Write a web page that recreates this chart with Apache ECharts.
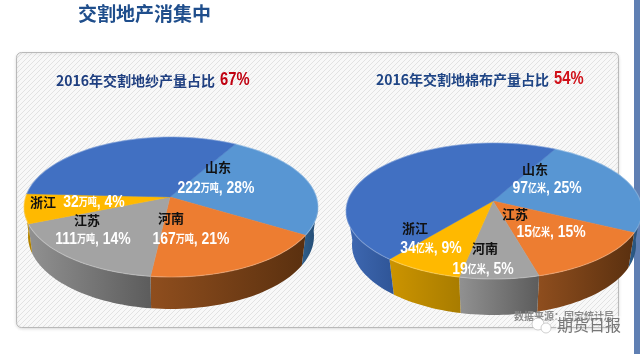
<!DOCTYPE html>
<html>
<head>
<meta charset="utf-8">
<style>html,body{margin:0;padding:0;background:#fff}#main{width:640px;height:354px}</style>
<script src="https://cdn.jsdelivr.net/npm/echarts@6/dist/echarts.min.js"></script>
</head>
<body>
<div id="main"></div>
<script>
const yarnNames = ["山东", "河南", "江苏", "浙江", "其他"];
const yarnValues = [222, 167, 111, 32];
const yarnPercents = [28, 21, 14, 4];
// slice sizes as drawn in the picture (the 3D perspective skews them off the labelled %)
const yarnShares = [24.4, 20.6, 18.9, 6.9, 29.2];

const clothNames = ["山东", "江苏", "河南", "浙江", "其他"];
const clothValues = [97, 15, 19, 34];
const clothPercents = [25, 15, 5, 9];
const clothShares = [23.4, 14.9, 8.7, 8.7, 44.3];

const BLUE = "#4170c2", SKY = "#5896d3", ORANGE = "#ed7d31", GRAY = "#a3a3a3", GOLD = "#ffb900";
const SIDE_ORANGE = ["#8f4e1e", "#5a300f"], SIDE_GRAY = ["#919191", "#5c5c5c"];
const SIDE_GOLD = ["#cc9400", "#a87c00"], SIDE_BLUE = ["#3f69b3", "#2f5597"], SIDE_SKY = ["#2f5f8c", "#234a70"];

const yarnPie = {
  apex: [170, 197], top: { cx: 171, cy: 207, rx: 147, ry: 70 }, bottom: { cx: 171, cy: 236, rx: 143, ry: 73 },
  start: 26, shares: yarnShares,
  colors: [SKY, ORANGE, GRAY, GOLD, BLUE],
  sides: [SIDE_SKY, SIDE_ORANGE, SIDE_GRAY, SIDE_GOLD, SIDE_BLUE],
};
const clothPie = {
  apex: [493, 201], top: { cx: 494, cy: 211, rx: 148, ry: 68 }, bottom: { cx: 494, cy: 245, rx: 142, ry: 70 },
  start: 24.4, shares: clothShares,
  colors: [SKY, ORANGE, GRAY, GOLD, BLUE],
  sides: [SIDE_SKY, SIDE_ORANGE, SIDE_GRAY, SIDE_GOLD, SIDE_BLUE],
};

function rimPoint(e, deg) {
  const a = deg * Math.PI / 180;
  return [e.cx + e.rx * Math.sin(a), e.cy - e.ry * Math.cos(a)];
}

function arcPoints(e, from, to) {
  const pts = [];
  for (let d = from; d < to; d += 2) pts.push(rimPoint(e, d));
  pts.push(rimPoint(e, to));
  return pts;
}

function pieSeries(pie) {
  return {
    type: "custom",
    coordinateSystem: "none",
    silent: true,
    animation: false,
    data: pie.shares.map((v) => [v]),
    renderItem(params, api) {
      const i = params.dataIndex;
      const before = pie.shares.slice(0, i).reduce((a, b) => a + b, 0);
      const from = pie.start + before * 3.6;
      const to = from + api.value(0) * 3.6;
      const children = [];

      // outer wall, front half only
      const wallFrom = Math.max(from, 86), wallTo = Math.min(to, 274);
      if (wallTo > wallFrom) {
        const wall = arcPoints(pie.top, wallFrom, wallTo)
          .concat(arcPoints(pie.bottom, wallFrom, wallTo).reverse());
        children.push({
          type: "polygon",
          shape: { points: wall },
          style: {
            fill: new echarts.graphic.LinearGradient(0, 0, 1, 0, [
              { offset: 0, color: pie.sides[i][0] },
              { offset: 1, color: pie.sides[i][1] },
            ]),
          },
        });
      }
      children.push({
        type: "polygon",
        shape: { points: [pie.apex].concat(arcPoints(pie.top, from, to)) },
        style: { fill: pie.colors[i], stroke: pie.colors[i], lineWidth: 0.5 },
      });
      // thin bevel highlight along the rim
      children.push({
        type: "polyline",
        shape: { points: arcPoints(pie.top, from, to) },
        style: { fill: null, stroke: "rgba(255,255,255,.22)", lineWidth: 1.2 },
      });
      return { type: "group", children };
    },
  };
}

function hatch() {
  const c = document.createElement("canvas");
  c.width = 5; c.height = 5;
  const g = c.getContext("2d");
  g.fillStyle = "#f8f8f8";
  g.fillRect(0, 0, 5, 5);
  g.strokeStyle = "#e2e2e2";
  g.lineWidth = 1;
  g.beginPath();
  g.moveTo(-1, 6); g.lineTo(6, -1);
  g.moveTo(-1, 1); g.lineTo(1, -1);
  g.moveTo(4, 6); g.lineTo(6, 4);
  g.stroke();
  return c;
}

const CJK = '"Noto Sans CJK SC"';
const LATIN = '"Liberation Sans"';

function nameText(text, x, y) {
  return {
    type: "text", z: 50,
    style: { text, x, y, align: "center", verticalAlign: "middle", fill: "#111", font: `bold 13px ${CJK}` },
  };
}

// the source font is a tall condensed one, so squeeze the text horizontally
function valueText(value, unit, pct, x, y) {
  return {
    type: "text", z: 50, x, y, scaleX: 0.82,
    style: {
      text: `{n|${value}}{u|${unit}}{n|, ${pct}%}`,
      x: 0, y: 0, align: "center", verticalAlign: "middle",
      rich: {
        n: { fill: "#fff", font: `bold 17px ${LATIN}` },
        u: { fill: "#fff", font: `bold 11px ${CJK}` },
      },
    },
  };
}

function plainText(text, x, y, fill, font, extra) {
  return { type: "text", z: 50, style: Object.assign({ text, x, y, fill, font, align: "left", verticalAlign: "middle" }, extra) };
}

function squeezedText(text, x, y, fill, font) {
  return { type: "text", z: 50, x, y, scaleX: 0.82, style: { text, x: 0, y: 0, fill, font, align: "left", verticalAlign: "middle" } };
}

const yarnNamePos = [[218, 167], [171, 218], [87, 220], [43, 202]];
const yarnValuePos = [[216, 188], [191, 239], [93, 239], [94, 202]];
const clothNamePos = [[535, 169], [515, 214], [485, 248], [415, 228]];
const clothValuePos = [[547, 188], [551, 232], [483, 269], [431, 248]];

const labels = [];
yarnValues.forEach((v, i) => {
  labels.push(nameText(yarnNames[i], yarnNamePos[i][0], yarnNamePos[i][1]));
  labels.push(valueText(v, "万吨", yarnPercents[i], yarnValuePos[i][0], yarnValuePos[i][1]));
});
clothValues.forEach((v, i) => {
  labels.push(nameText(clothNames[i], clothNamePos[i][0], clothNamePos[i][1]));
  labels.push(valueText(v, "亿米", clothPercents[i], clothValuePos[i][0], clothValuePos[i][1]));
});

const ch = echarts.init(document.getElementById("main"));
ch.setOption({
  backgroundColor: "#fff",
  animation: false,
  graphic: {
    elements: [
      { type: "rect", z: 0, shape: { x: 634, y: 0, width: 6, height: 354 }, style: { fill: "#5f7fb3" } },
      {
        type: "rect", z: 0,
        shape: { x: 16.5, y: 52.5, width: 602, height: 275, r: 5 },
        style: {
          fill: { image: hatch(), repeat: "repeat" }, stroke: "#b9b9b9", lineWidth: 1,
          shadowBlur: 3, shadowColor: "rgba(0,0,0,.12)", shadowOffsetY: 1,
        },
      },
      plainText("交割地产消集中", 78, 14, "#1f4e8c", `bold 19px ${CJK}`),
      plainText("2016年交割地纱产量占比", 56, 81, "#1f3f80", `bold 14px ${CJK}`),
      squeezedText("67%", 220, 80, "#c00010", `bold 18px ${LATIN}`),
      plainText("2016年交割地棉布产量占比", 376, 80, "#1f4585", `bold 14px ${CJK}`),
      squeezedText("54%", 554, 79, "#d01018", `bold 18px ${LATIN}`),
      ...labels,
      plainText("数据来源：国家统计局", 514, 316, "#8a8a8a", `bold 10px ${CJK}`),
      { type: "circle", z: 51, shape: { cx: 538, cy: 324, r: 6 }, style: { fill: "#fff", stroke: "#bbb", lineWidth: 0.7 } },
      { type: "circle", z: 51, shape: { cx: 546, cy: 328, r: 5 }, style: { fill: "#fff", stroke: "#bbb", lineWidth: 0.7 } },
      plainText("期货日报", 557, 325, "#777", `16px ${CJK}`, { textBorderColor: "#fff", textBorderWidth: 1 }),
    ],
  },
  series: [pieSeries(yarnPie), pieSeries(clothPie)],
});
</script>
</body>
</html>
